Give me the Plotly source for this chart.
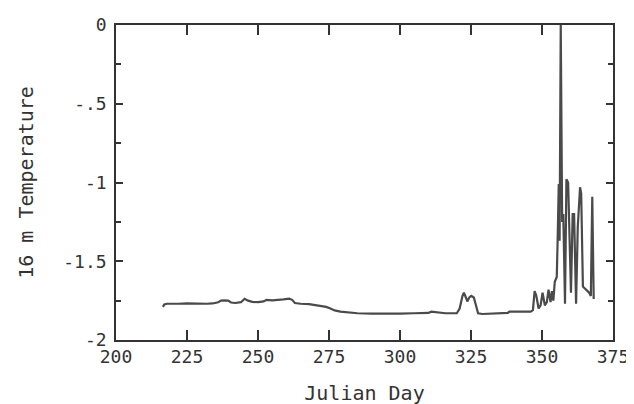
import plotly.graph_objects as go

# Julian day and 16 m temperature
days = [216.5, 217, 218, 220, 222, 225, 228, 230, 232, 234, 236, 237, 238, 239.5,
        240.5, 242, 244, 245.3, 246.5, 248, 250, 252, 253, 255, 257, 259, 261, 262,
        263, 265, 268, 270, 272, 274, 275.5, 277, 279, 282, 285, 290, 295, 300, 305,
        310, 311, 313, 316, 320, 321, 322, 322.5, 323.2, 323.7, 324.4, 325.1, 326,
        326.8, 327.5, 329, 332, 335, 338, 338.5, 342, 346, 346.8, 347.4, 348, 348.8,
        349.5, 350.2, 351, 351.7, 352.3, 353, 353.5, 354, 354.5, 355.2, 355.5, 355.9,
        356.2, 356.6, 357.1, 357.5, 358.1, 358.6, 359.2, 359.8, 360.2, 360.8, 361.3,
        362.0, 362.6, 363.4, 363.8, 364.4, 365.5, 366.6, 367.2, 367.7, 368.2]
temps = [-1.79, -1.775, -1.77, -1.768, -1.77, -1.768, -1.77, -1.772, -1.77, -1.768,
         -1.76, -1.75, -1.748, -1.75, -1.762, -1.765, -1.76, -1.738, -1.75, -1.758,
         -1.76, -1.755, -1.745, -1.748, -1.746, -1.742, -1.737, -1.745, -1.765, -1.77,
         -1.772, -1.778, -1.782, -1.79, -1.80, -1.812, -1.82, -1.825, -1.83, -1.832,
         -1.833, -1.832, -1.83, -1.828, -1.82, -1.825, -1.83, -1.83, -1.80, -1.72,
         -1.70, -1.73, -1.755, -1.73, -1.72, -1.73, -1.78, -1.83, -1.835, -1.832,
         -1.83, -1.828, -1.82, -1.82, -1.82, -1.81, -1.69, -1.72, -1.80, -1.78, -1.70,
         -1.78, -1.76, -1.68, -1.76, -1.69, -1.75, -1.63, -1.60, -1.37, -1.01, -1.37,
         0.0, -1.25, -1.2, -1.77, -0.98, -1.0, -1.45, -1.70, -1.2, -1.2, -1.77, -1.28,
         -1.03, -1.07, -1.66, -1.68, -1.70, -1.72, -1.09, -1.74]

x_ticks = [200, 225, 250, 275, 300, 325, 350, 375]
x_labels = ["200", "225", "250", "275", "300", "325", "350", "375"]
y_ticks = [0, -0.5, -1, -1.5, -2]
y_labels = ["0", "-.5", "-1", "-1.5", "-2"]

FONT = "DejaVu Sans Mono"
INK = "#333333"

fig = go.Figure()
fig.add_trace(go.Scatter(x=days, y=temps, mode="lines",
                         line=dict(color="#4a4a4a", width=2.2), cliponaxis=True,
                         showlegend=False))

fig.update_layout(
    width=634, height=404,
    margin=dict(l=108, r=29, t=17, b=72),
    paper_bgcolor="white", plot_bgcolor="white",
    font=dict(family=FONT, size=18, color=INK),
)
fig.update_xaxes(
    range=[200, 375], tickvals=x_ticks, ticktext=x_labels,
    ticks="inside", ticklen=10, tickwidth=1.5, tickcolor=INK,
    showline=True, linecolor=INK, linewidth=1.5, mirror="ticks",
    showgrid=False, zeroline=False,
    tickfont=dict(family=FONT, size=18, color=INK),
    title=dict(text="Julian Day", font=dict(family=FONT, size=20, color=INK), standoff=20),
    automargin=False,
)
fig.update_yaxes(
    range=[-2, 0], tickvals=y_ticks, ticktext=y_labels,
    ticks="inside", ticklen=7, tickwidth=1.5, tickcolor=INK,
    minor=dict(tickvals=[-0.25, -0.75, -1.25, -1.75], ticks="inside", ticklen=5,
               tickwidth=1.5, tickcolor=INK, showgrid=False),
    showline=True, linecolor=INK, linewidth=1.5, mirror="ticks",
    showgrid=False, zeroline=False,
    tickfont=dict(family=FONT, size=18, color=INK),
    ticklabelstandoff=4,
    title=dict(text="16 m Temperature", font=dict(family=FONT, size=20, color=INK), standoff=24),
    automargin=False,
)

fig.write_html("out.html")
